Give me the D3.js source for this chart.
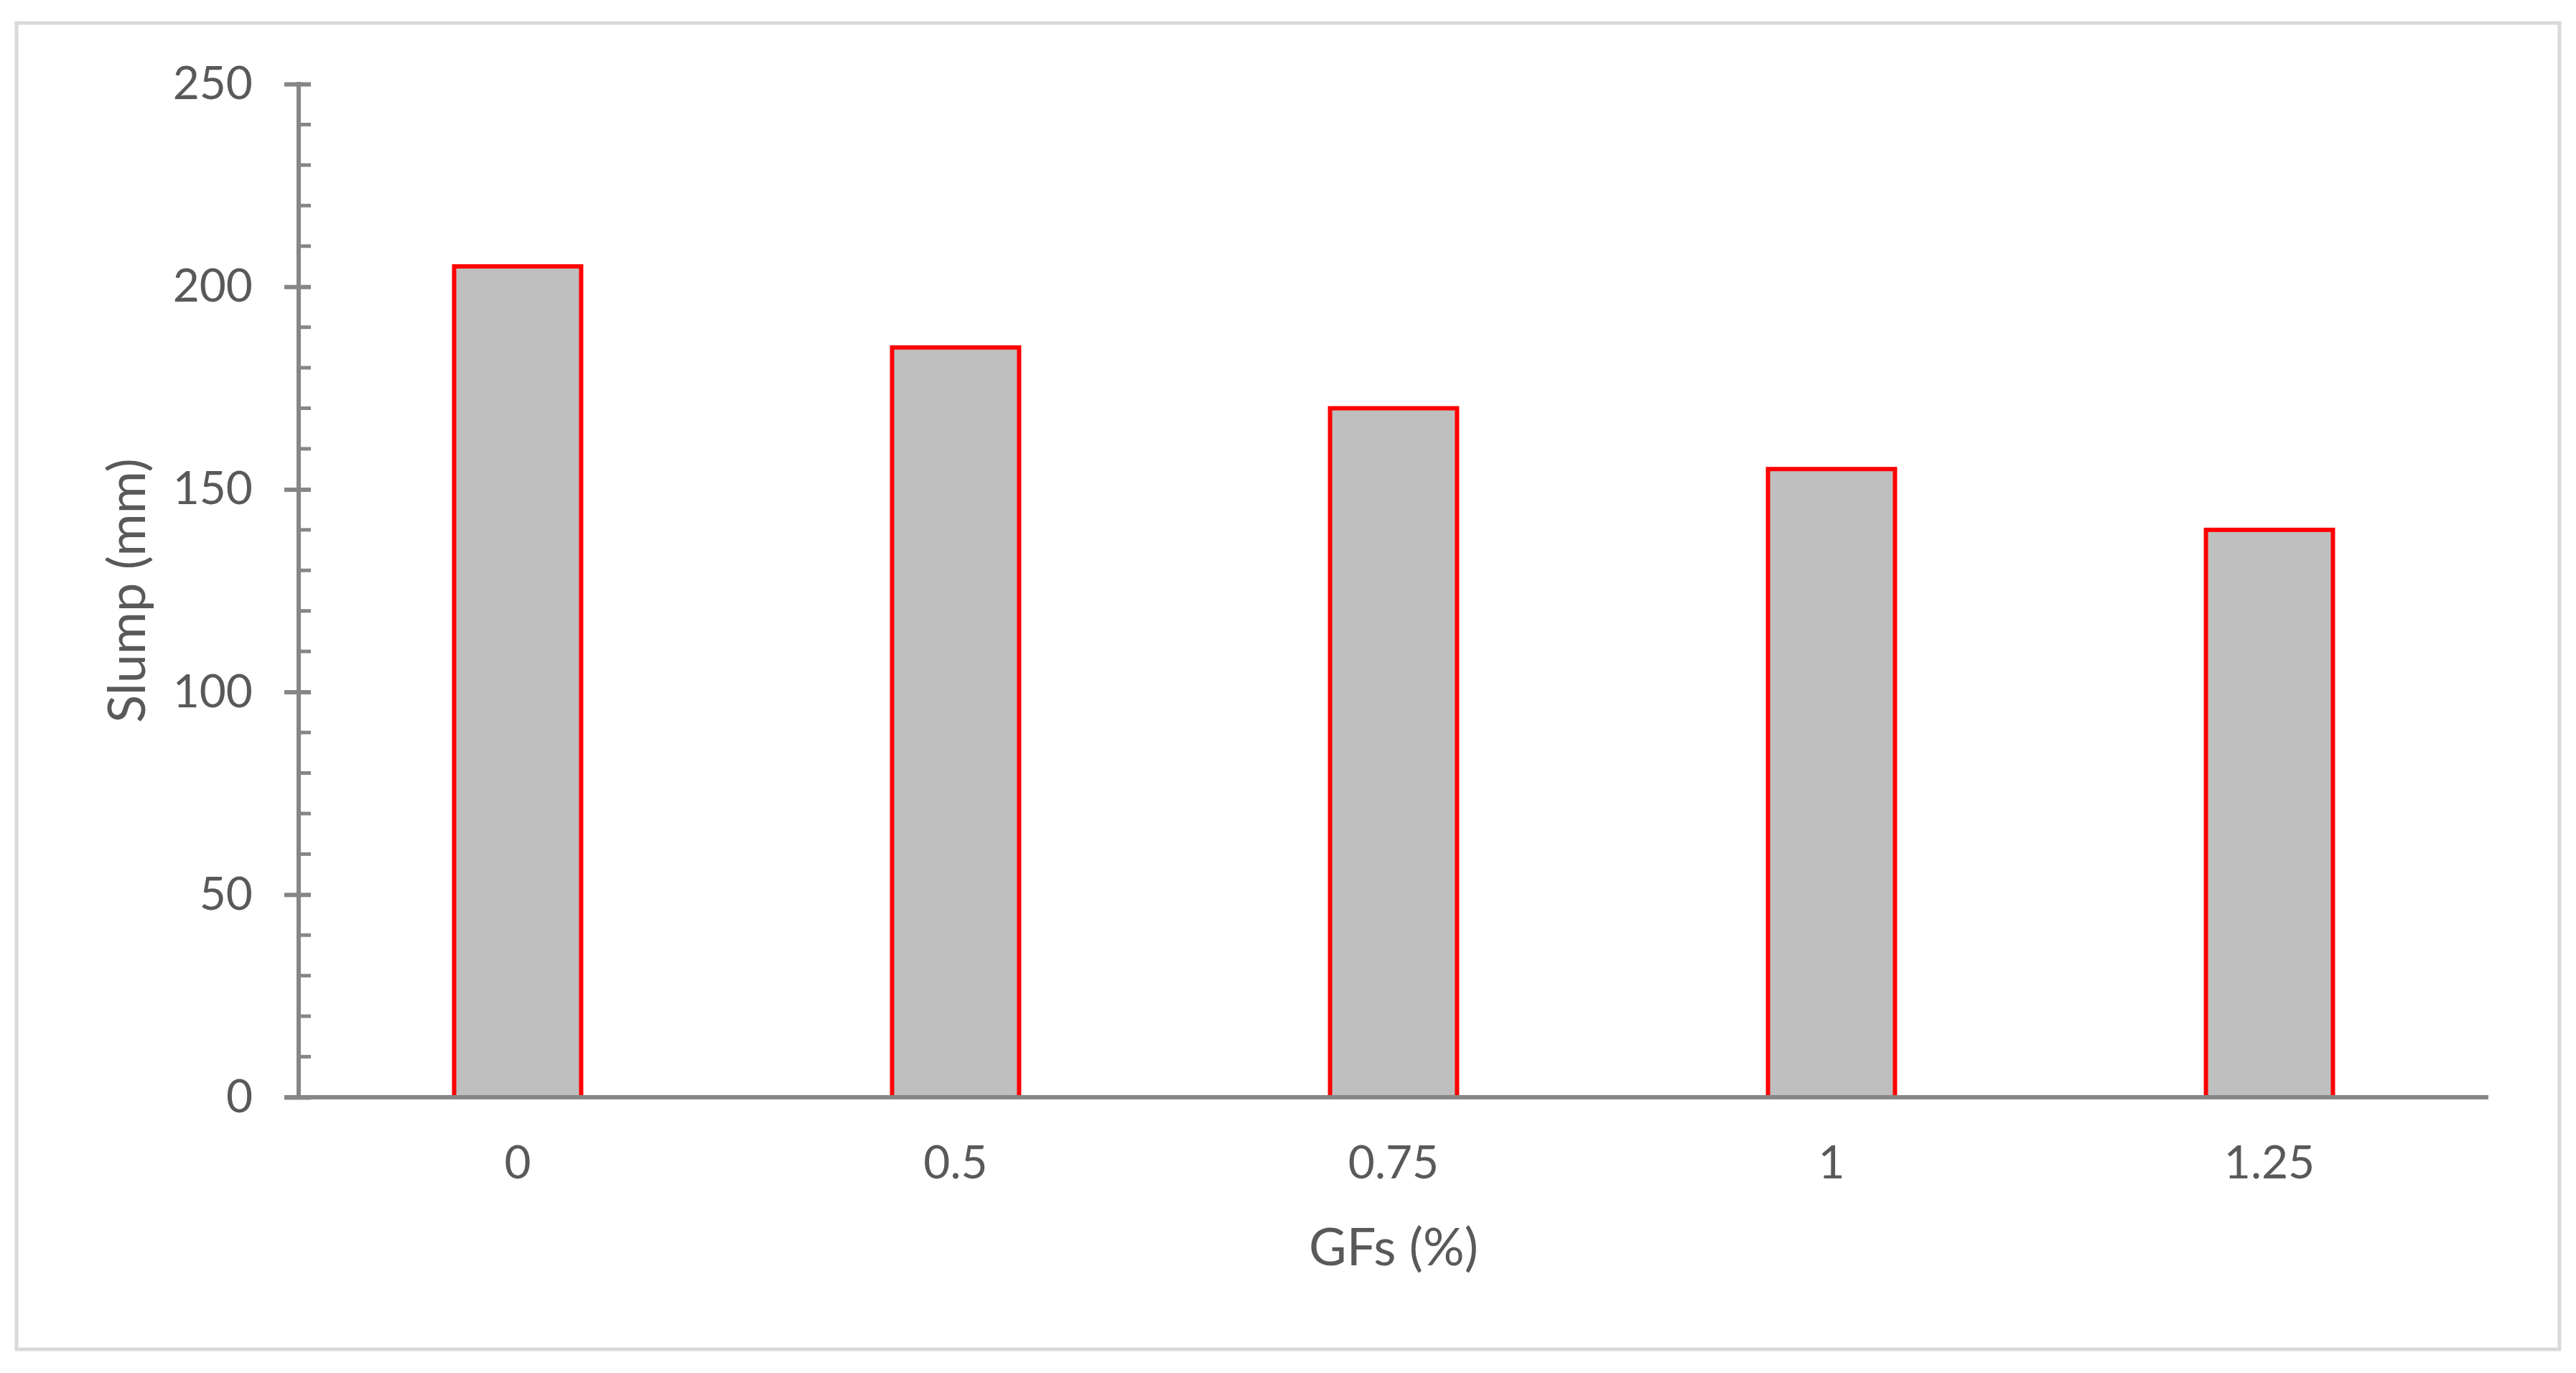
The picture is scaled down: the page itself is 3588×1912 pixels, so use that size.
<!DOCTYPE html>
<html>
<head>
<meta charset="utf-8">
<script src="https://cdn.jsdelivr.net/npm/d3@7"></script>
<style>
  html, body { margin: 0; padding: 0; background: #fff; }
  svg { display: block; }
</style>
</head>
<body>
<div class="chart"></div>
<script>
const categories = ["0", "0.5", "0.75", "1", "1.25"];
const slump = [205, 185, 170, 155, 140];
const yTicks = [0, 50, 100, 150, 200, 250];

const width = 3588;
const height = 1912;
const margin = { top: 117, right: 122, bottom: 384, left: 416 };
const axisColor = "#868686";
const textColor = "#595959";
const font = "Lato, 'Open Sans', sans-serif";

const svg = d3
  .select(".chart")
  .append("svg")
  .attr("width", width)
  .attr("height", height);

// outer chart border
svg
  .append("rect")
  .attr("x", 23)
  .attr("y", 32)
  .attr("width", 3542)
  .attr("height", 1847)
  .attr("fill", "#fff")
  .attr("stroke", "#d9d9d9")
  .attr("stroke-width", 5);

const x = d3
  .scaleBand()
  .domain(categories)
  .range([margin.left, width - margin.right])
  .paddingInner(0.71)
  .paddingOuter(0.355);

const y = d3
  .scaleLinear()
  .domain([0, 250])
  .range([height - margin.bottom, margin.top]);

// bars
svg
  .append("g")
  .selectAll("rect")
  .data(slump)
  .enter()
  .append("rect")
  .attr("x", (d, i) => x(categories[i]))
  .attr("y", d => y(d))
  .attr("width", x.bandwidth())
  .attr("height", d => y(0) - y(d))
  .attr("fill", "#bfbfbf")
  .attr("stroke", "#ff0000")
  .attr("stroke-width", 6);

// y axis
const yAxis = svg
  .append("g")
  .attr("transform", `translate(${margin.left},0)`)
  .call(d3.axisLeft(y).tickValues(yTicks).tickSize(20).tickPadding(44));

yAxis.select(".domain").remove();
yAxis
  .selectAll(".tick line")
  .attr("x1", 17)
  .attr("x2", -20)
  .attr("stroke", axisColor)
  .attr("stroke-width", 6);
yAxis
  .selectAll(".tick text")
  .attr("fill", textColor)
  .style("font-family", font)
  .style("font-size", "64px");

// minor ticks every 10
svg
  .append("g")
  .selectAll("line")
  .data(d3.range(0, 251, 10).filter(v => v % 50 !== 0))
  .enter()
  .append("line")
  .attr("x1", margin.left)
  .attr("x2", margin.left + 17)
  .attr("y1", d => y(d))
  .attr("y2", d => y(d))
  .attr("stroke", axisColor)
  .attr("stroke-width", 5);

svg
  .append("line")
  .attr("x1", margin.left)
  .attr("x2", margin.left)
  .attr("y1", y(250) - 3)
  .attr("y2", y(0))
  .attr("stroke", axisColor)
  .attr("stroke-width", 6);

// x axis
const xAxis = svg
  .append("g")
  .attr("transform", `translate(0,${y(0)})`)
  .call(d3.axisBottom(x).tickSize(0).tickPadding(68));

xAxis.select(".domain").remove();
xAxis
  .selectAll(".tick text")
  .attr("fill", textColor)
  .style("font-family", font)
  .style("font-size", "64px");

svg
  .append("line")
  .attr("x1", margin.left - 20)
  .attr("x2", width - margin.right)
  .attr("y1", y(0))
  .attr("y2", y(0))
  .attr("stroke", axisColor)
  .attr("stroke-width", 6);

// axis titles
svg
  .append("text")
  .attr("x", (margin.left + width - margin.right) / 2)
  .attr("y", 1762)
  .attr("text-anchor", "middle")
  .attr("fill", textColor)
  .style("font-family", font)
  .style("font-size", "72px")
  .text("GFs (%)");

svg
  .append("text")
  .attr("transform", `translate(202,${(y(0) + y(250)) / 2}) rotate(-90)`)
  .attr("text-anchor", "middle")
  .attr("fill", textColor)
  .style("font-family", font)
  .style("font-size", "72px")
  .text("Slump (mm)");
</script>
</body>
</html>
